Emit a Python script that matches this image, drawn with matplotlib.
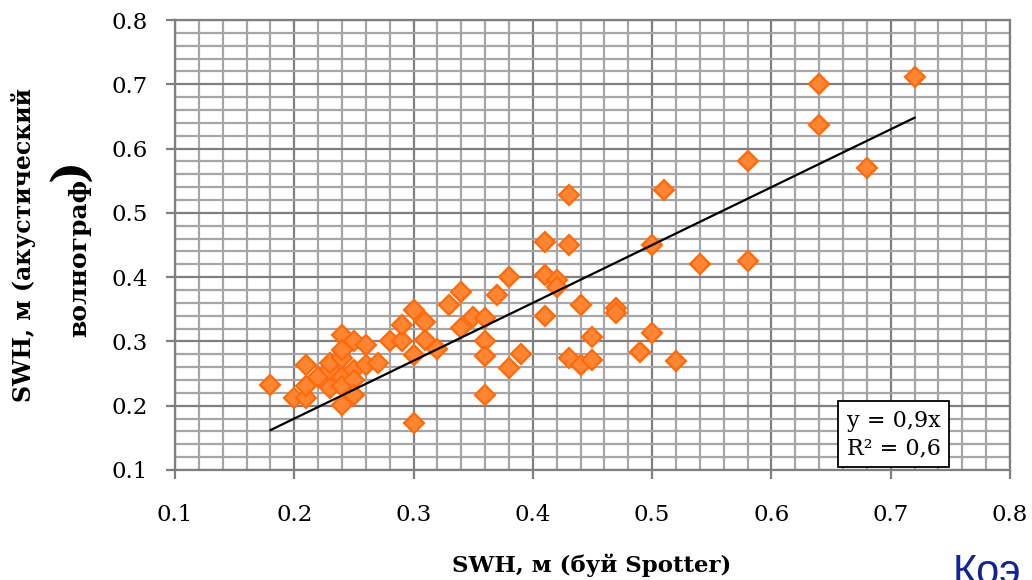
import matplotlib
matplotlib.use("Agg")
import matplotlib.pyplot as plt
import numpy as np

# Significant wave height: Spotter buoy vs acoustic wave gauge
swh_spotter = [0.18, 0.20, 0.21, 0.21, 0.21, 0.22, 0.23, 0.23, 0.23, 0.24,
               0.24, 0.24, 0.24, 0.24, 0.24, 0.25, 0.25, 0.25, 0.25, 0.26,
               0.26, 0.27, 0.28, 0.29, 0.29, 0.30, 0.30, 0.30, 0.31, 0.31,
               0.32, 0.33, 0.34, 0.34, 0.35, 0.36, 0.36, 0.36, 0.36, 0.37,
               0.38, 0.38, 0.39, 0.41, 0.41, 0.41, 0.42, 0.42, 0.43, 0.43,
               0.43, 0.44, 0.44, 0.45, 0.45, 0.47, 0.47, 0.49, 0.50, 0.50,
               0.51, 0.52, 0.54, 0.58, 0.58, 0.64, 0.64, 0.68, 0.72]
swh_acoustic = [0.233, 0.212, 0.212, 0.263, 0.230, 0.245, 0.228, 0.256, 0.267, 0.310,
                0.274, 0.287, 0.245, 0.201, 0.230, 0.300, 0.256, 0.240, 0.217, 0.295,
                0.263, 0.267, 0.300, 0.300, 0.326, 0.349, 0.279, 0.173, 0.331, 0.302,
                0.289, 0.357, 0.377, 0.321, 0.338, 0.336, 0.300, 0.277, 0.217, 0.372,
                0.400, 0.258, 0.281, 0.455, 0.403, 0.339, 0.395, 0.385, 0.528, 0.450,
                0.274, 0.357, 0.263, 0.307, 0.271, 0.352, 0.344, 0.284, 0.450, 0.313,
                0.536, 0.270, 0.421, 0.581, 0.425, 0.700, 0.637, 0.570, 0.711]

trend_slope = 0.9
r_squared = 0.6
axis_ticks = [0.1, 0.2, 0.3, 0.4, 0.5, 0.6, 0.7, 0.8]

serif = "DejaVu Serif"
grid_minor = "#a6a6a6"
grid_major = "#7f7f7f"

fig = plt.figure(figsize=(10.32, 5.80), dpi=100)
ax = fig.add_axes([175 / 1032, 110 / 580, 835 / 1032, 450 / 580])

x = np.array(swh_spotter)
y = np.array(swh_acoustic)

ax.plot(x, y, linestyle="none", marker="D", markersize=10.5,
        markerfacecolor="#ff8533", markeredgecolor="#ff6a0a",
        markeredgewidth=1.6, zorder=3)

xl = np.array([x.min(), x.max()])
ax.plot(xl, trend_slope * xl, color="black", linewidth=1.6, zorder=4)

ax.set_xlim(axis_ticks[0], axis_ticks[-1])
ax.set_ylim(axis_ticks[0], axis_ticks[-1])
ax.set_xticks(axis_ticks)
ax.set_yticks(axis_ticks)
ax.set_xticks(np.arange(0.1, 0.8001, 0.02), minor=True)
ax.set_yticks(np.arange(0.1, 0.8001, 0.02), minor=True)
ax.set_xticklabels([f"{t:.1f}" for t in axis_ticks], fontfamily=serif, fontsize=16.5)
ax.set_yticklabels([f"{t:.1f}" for t in axis_ticks], fontfamily=serif, fontsize=16.5)

ax.grid(which="minor", color=grid_minor, linewidth=1.6)
ax.grid(which="major", color=grid_major, linewidth=1.6)
ax.set_axisbelow(True)

ax.tick_params(axis="both", which="major", direction="out", length=6.5,
               width=1.6, color=grid_major)
ax.tick_params(axis="x", which="major", pad=18)
ax.tick_params(axis="y", which="major", pad=13)
ax.tick_params(which="minor", length=0)
for side in ax.spines.values():
    side.set_color(grid_major)
    side.set_linewidth(1.6)

ax.text(0.8605, 0.079, f"y = {trend_slope:.1f}x\nR² = {r_squared:.1f}".replace(".", ","),
        transform=ax.transAxes, ha="center", va="center", multialignment="left",
        fontfamily=serif, fontsize=16, linespacing=1.3, zorder=5,
        bbox=dict(boxstyle="square,pad=0.38", facecolor="white",
                  edgecolor="black", linewidth=1.3))

# axis titles
fig.text(592 / 1032, 1 - 565 / 580, "SWH, м (буй Spotter)", ha="center", va="center",
         fontfamily=serif, fontweight="bold", fontsize=16.5)
fig.text(24 / 1032, 1 - 245 / 580, "SWH, м (акустический", rotation=90,
         ha="center", va="center", fontfamily=serif, fontweight="bold", fontsize=17)
fig.text(79 / 1032, 1 - 258 / 580, "волнограф", rotation=90,
         ha="center", va="center", fontfamily=serif, fontweight="bold", fontsize=18)
fig.text(70 / 1032, 1 - 170 / 580, ")", rotation=90,
         ha="center", va="center", fontfamily=serif, fontweight="bold", fontsize=34)

fig.text(953 / 1032, -4 / 580, "Коэ", ha="left", va="baseline",
         fontfamily="Liberation Sans", fontsize=30, color="#14238f")

fig.savefig("out.png", dpi=100)
